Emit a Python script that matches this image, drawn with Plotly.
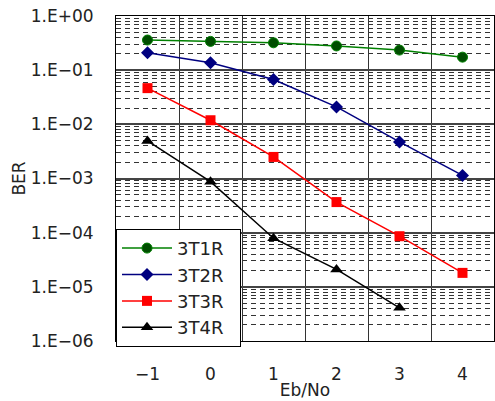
import plotly.graph_objects as go

ebno = [-1, 0, 1, 2, 3, 4]
ber_3t1r = [0.36, 0.34, 0.32, 0.28, 0.235, 0.174]
ber_3t2r = [0.21, 0.137, 0.0673, 0.021, 0.00473, 0.00114]
ber_3t3r = [0.0466, 0.0119, 0.0025, 0.000367, 0.000086, 0.0000181]
ebno_3t4r = [-1, 0, 1, 2, 3]
ber_3t4r = [0.00493, 0.000875, 0.000079, 0.000021, 0.0000041]

y_tickvals = [1, 1e-1, 1e-2, 1e-3, 1e-4, 1e-5, 1e-6]
y_ticktext = ["1.E+00", "1.E\u221201", "1.E\u221202", "1.E\u221203", "1.E\u221204", "1.E\u221205", "1.E\u221206"]
x_ticktext = ["\u22121", "0", "1", "2", "3", "4"]
x_boundaries = [-0.5, 0.5, 1.5, 2.5, 3.5, 4.5]

fig = go.Figure()
fig.add_trace(go.Scatter(x=ebno, y=ber_3t1r, name="3T1R\u00a0\u00a0", mode="lines+markers",
                         line=dict(color="#008000", width=1.5),
                         marker=dict(symbol="circle", size=10, color="#004d00",
                                     line=dict(color="#008000", width=1))))
fig.add_trace(go.Scatter(x=ebno, y=ber_3t2r, name="3T2R\u00a0\u00a0", mode="lines+markers",
                         line=dict(color="#000080", width=1.5),
                         marker=dict(symbol="diamond", size=10, color="#000080")))
fig.add_trace(go.Scatter(x=ebno, y=ber_3t3r, name="3T3R\u00a0\u00a0", mode="lines+markers",
                         line=dict(color="#ff0000", width=1.5),
                         marker=dict(symbol="square", size=10, color="#ff0000")))
fig.add_trace(go.Scatter(x=ebno_3t4r, y=ber_3t4r, name="3T4R\u00a0\u00a0", mode="lines+markers",
                         line=dict(color="#000000", width=1.5),
                         marker=dict(symbol="triangle-up", size=11, color="#000000")))

fig.update_layout(
    width=495, height=401,
    margin=dict(l=116, r=1, t=16, b=60),
    paper_bgcolor="white", plot_bgcolor="white",
    font=dict(family="DejaVu Sans, Arial, sans-serif", size=17, color="#222222"),
    showlegend=True,
    legend=dict(x=0, y=0.345, xanchor="left", yanchor="top",
                bgcolor="white", bordercolor="black", borderwidth=1,
                font=dict(size=18, color="#222222"), tracegroupgap=0,
                itemwidth=50),
)
fig.update_xaxes(
    range=[-1.5, 4.5], tickmode="array", tickvals=ebno, ticktext=x_ticktext,
    showgrid=False, zeroline=False,
    showline=True, linecolor="black", linewidth=1, mirror=True,
    ticks="", ticklabelstandoff=18,
    title=dict(text="Eb/No", standoff=0, font=dict(size=17)),
    minor=dict(tickmode="array", tickvals=x_boundaries, showgrid=True,
               gridcolor="#333333", gridwidth=1, ticks=""),
)
fig.update_yaxes(
    type="log", range=[-6, 0], tickmode="array", tickvals=y_tickvals, ticktext=y_ticktext,
    showgrid=True, gridcolor="#444444", gridwidth=1.5, zeroline=False,
    showline=True, linecolor="black", linewidth=1, mirror=True,
    ticks="", ticklabelstandoff=18,
    title=dict(text="BER", standoff=0, font=dict(size=17)),
    minor=dict(showgrid=True, gridcolor="#333333", griddash="5px,4px", gridwidth=1,
               ticks="", dtick="D1"),
)

fig.write_html("out.html")
